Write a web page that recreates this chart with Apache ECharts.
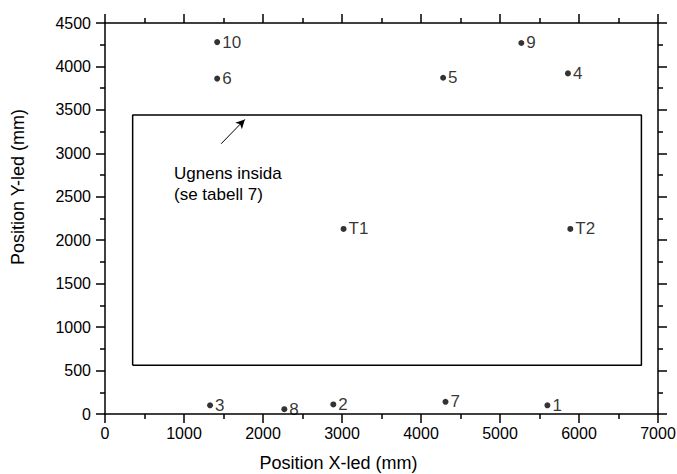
<!DOCTYPE html>
<html>
<head>
<meta charset="utf-8">
<script src="https://cdn.jsdelivr.net/npm/echarts@6/dist/echarts.min.js"></script>
<style>
  html, body { margin: 0; padding: 0; background: #fff; }
  #chart { width: 677px; height: 474px; }
</style>
</head>
<body>
<div id="chart"></div>
<script>
// Measurement points (mm)
const pointNames = ['1', '2', '3', '4', '5', '6', '7', '8', '9', '10', 'T1', 'T2'];
const pointX = [5600, 2890, 1330, 5860, 4280, 1420, 4310, 2270, 5270, 1420, 3020, 5890];
const pointY = [100, 110, 100, 3920, 3870, 3860, 140, 55, 4270, 4280, 2130, 2130];

// Oven interior outline (mm)
const ovenX = [350, 6790];
const ovenY = [560, 3440];

// Arrow pointing at the oven wall (tail, head) in mm
const arrowX = [1470, 1770];
const arrowY = [3110, 3390];

const ovenNote = 'Ugnens insida\n(se tabell 7)';
const xTitle = 'Position X-led (mm)';
const yTitle = 'Position Y-led (mm)';

const FONT = '"Liberation Sans", Arial, Helvetica, sans-serif';

const points = pointX.map((x, i) => ({ value: [x, pointY[i]], name: pointNames[i] }));
const outline = [
  [ovenX[0], ovenY[0]], [ovenX[1], ovenY[0]], [ovenX[1], ovenY[1]],
  [ovenX[0], ovenY[1]], [ovenX[0], ovenY[0]]
];

function axisCommon(showLabel, margin) {
  return {
    axisLine: { show: true, onZero: false, lineStyle: { color: '#000', width: 1.5 } },
    axisTick: { show: true, inside: false, length: 9, lineStyle: { color: '#000', width: 1.5 } },
    minorTick: { show: true, splitNumber: 2, length: 5, lineStyle: { color: '#000', width: 1.5 } },
    splitLine: { show: false },
    minorSplitLine: { show: false },
    axisLabel: {
      show: showLabel, color: '#000', fontSize: 16, fontFamily: FONT,
      margin: margin || 8, formatter: v => String(v)
    }
  };
}

const chart = echarts.init(document.getElementById('chart'), null, { renderer: 'svg' });

const option = {
  backgroundColor: '#fff',
  animation: false,
  grid: { left: 105, right: 19, top: 23, bottom: 60, containLabel: false, outerBoundsMode: 'none' },
  xAxis: [
    Object.assign({ type: 'value', position: 'bottom', min: 0, max: 7000, interval: 1000 }, axisCommon(true, 11)),
    Object.assign({ type: 'value', position: 'top', min: 0, max: 7000, interval: 1000 }, axisCommon(false))
  ],
  yAxis: [
    Object.assign({ type: 'value', position: 'left', min: 0, max: 4500, interval: 500 }, axisCommon(true, 14)),
    Object.assign({ type: 'value', position: 'right', min: 0, max: 4500, interval: 500 }, axisCommon(false))
  ],
  graphic: [
    {
      type: 'text', left: 174, top: 163,
      style: { text: ovenNote, fill: '#000', fontSize: 17, fontFamily: FONT, lineHeight: 21 }
    },
    {
      type: 'text', left: 'center', top: 454,
      style: { text: xTitle, fill: '#000', fontSize: 18, fontFamily: FONT }
    },
    {
      type: 'text', x: 9, y: 187, rotation: Math.PI / 2,
      style: { text: yTitle, fill: '#000', fontSize: 18, fontFamily: FONT, align: 'center', verticalAlign: 'top' }
    }
  ],
  series: [
    {
      type: 'line',
      data: outline,
      symbol: 'none',
      lineStyle: { color: '#000', width: 1.5 },
      silent: true,
      markLine: {
        silent: true,
        symbol: ['none', 'arrow'],
        symbolSize: [7, 9],
        label: { show: false },
        lineStyle: { color: '#000', width: 1, type: 'solid' },
        data: [[
          { coord: [arrowX[0], arrowY[0]] },
          { coord: [arrowX[1], arrowY[1]] }
        ]]
      }
    },
    {
      type: 'scatter',
      data: points,
      symbol: 'circle',
      symbolSize: 6,
      itemStyle: { color: '#000' },
      label: {
        show: true,
        position: 'right',
        distance: 2,
        formatter: p => p.name,
        color: '#000',
        fontSize: 17,
        fontFamily: FONT
      }
    }
  ]
};

chart.setOption(option);
</script>
</body>
</html>
